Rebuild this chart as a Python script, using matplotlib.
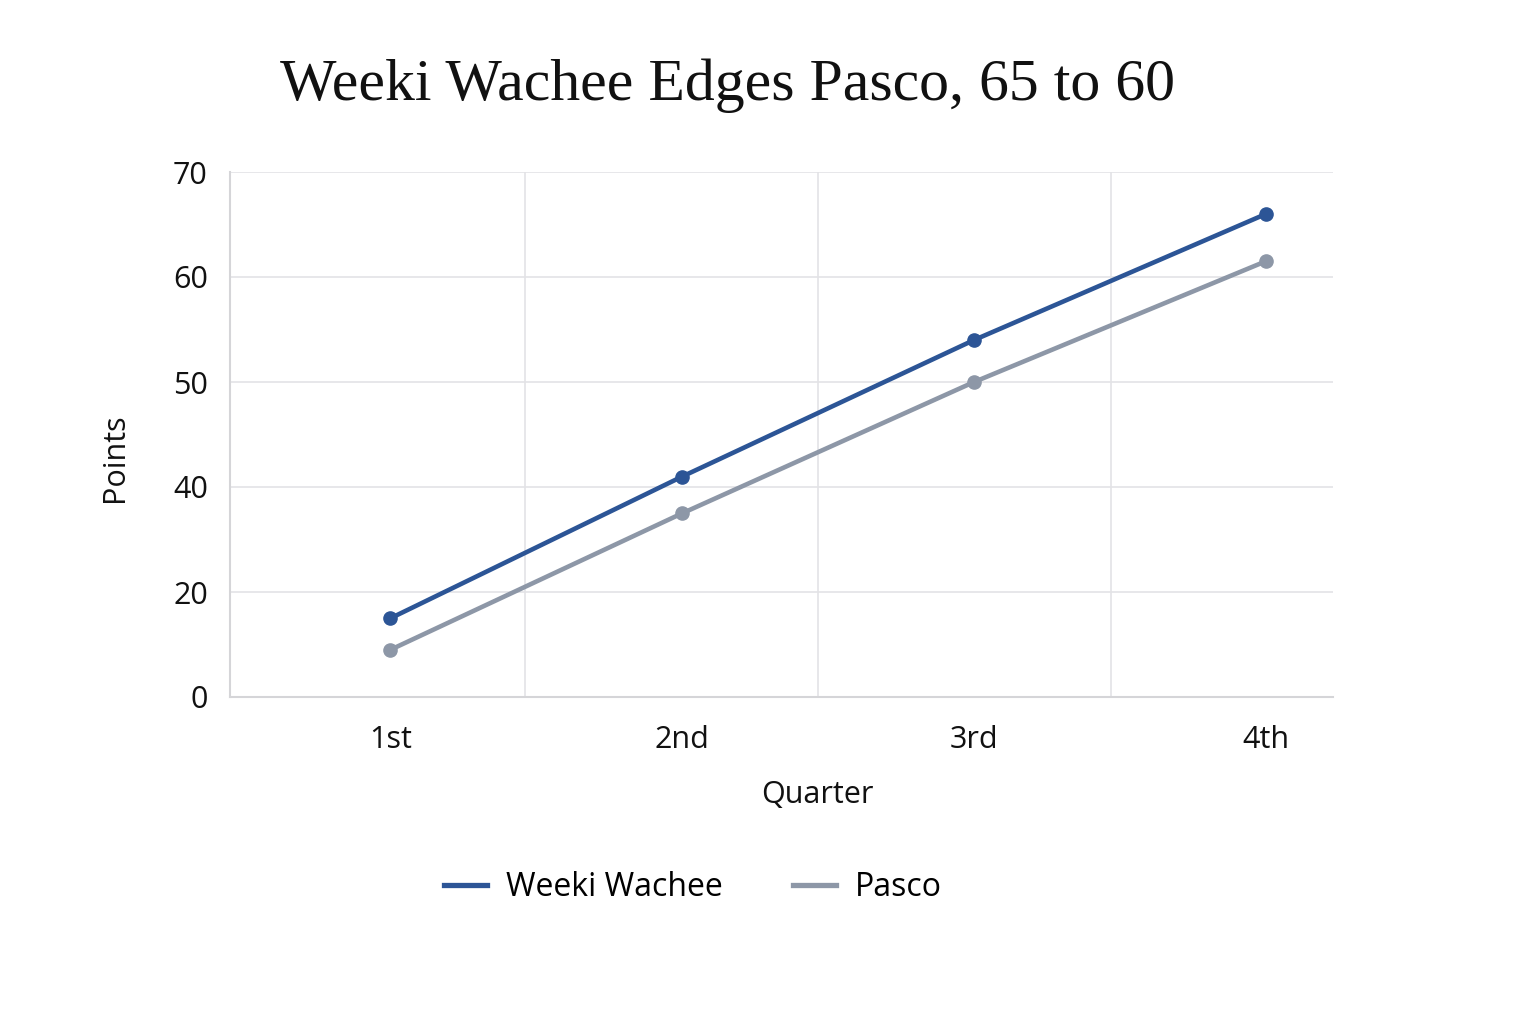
import numpy as np
import matplotlib
matplotlib.use("Agg")
import matplotlib.pyplot as plt
from matplotlib.ticker import FixedLocator

quarters = ["1st", "2nd", "3rd", "4th"]
weeki = [15, 41, 54, 66]
pasco = [9, 35, 50, 61.5]
ytick_vals = [0, 20, 40, 50, 60, 70]
ytick_labels = ["0", "20", "40", "50", "60", "70"]

title = "Weeki Wachee Edges Pasco, 65 to 60"
c_weeki = "#2c5596"
c_pasco = "#8d97a7"
grid_c = "#e3e3e6"
sans = ["Open Sans", "DejaVu Sans"]

fig = plt.figure(figsize=(15.36, 10.24), dpi=100)
ax = fig.add_axes([230/1536, 1 - 697/1024, 1103/1536, 525/1024])

pos = np.arange(len(ytick_vals), dtype=float)
fwd = lambda y: np.interp(y, ytick_vals, pos)
inv = lambda p: np.interp(p, pos, ytick_vals)
ax.set_yscale("function", functions=(fwd, inv))

x = np.arange(len(quarters))
ax.plot(x, weeki, color=c_weeki, lw=3.3, marker="o", ms=9.5, label="Weeki Wachee", zorder=3)
ax.plot(x, pasco, color=c_pasco, lw=3.3, marker="o", ms=9.5, label="Pasco", zorder=3)

ax.set_xlim(-0.55, 3.23)
ax.set_ylim(0, 70)
ax.yaxis.set_major_locator(FixedLocator(ytick_vals))
ax.set_yticklabels(ytick_labels)
ax.set_xticks(x)
ax.set_xticklabels(quarters)
ax.xaxis.set_minor_locator(FixedLocator([0.46, 1.465, 2.47]))
ax.grid(axis="y", which="major", color=grid_c, lw=1.2)
ax.grid(axis="x", which="minor", color=grid_c, lw=1.2)
ax.tick_params(axis="both", which="both", length=0, labelsize=22, colors="#111111")
ax.tick_params(axis="x", pad=20)
ax.tick_params(axis="y", pad=16)
for lab in ax.get_xticklabels() + ax.get_yticklabels():
    lab.set_family(sans)
for s in ["top", "right"]:
    ax.spines[s].set_visible(False)
for s in ["left", "bottom"]:
    ax.spines[s].set_color("#d5d5d8")
    ax.spines[s].set_linewidth(1.5)

ax.set_xlabel("Quarter", fontsize=22, family=sans, color="#111111", va="top")
ax.xaxis.set_label_coords((817 - 230) / 1103, (697 - 780) / 525)
ax.set_ylabel("Points", fontsize=22, family=sans, color="#111111")
ax.yaxis.set_label_coords((130 - 230) / 1103, (697 - 458) / 525)

fig.text(728/1536, 1 - 86/1024, title, ha="center", va="center",
         fontsize=43, family=["Liberation Serif", "DejaVu Serif"], color="#111111")

leg = fig.legend(loc="center", bbox_to_anchor=(693/1536, 1 - 888/1024), ncol=2,
                 frameon=False, prop={"family": sans, "size": 23},
                 handlelength=1.35, columnspacing=2.2, handletextpad=0.6)
for h in leg.legend_handles:
    h.set_marker("")
    h.set_linewidth(3.8)

fig.savefig("out.png", dpi=100, facecolor="white")
